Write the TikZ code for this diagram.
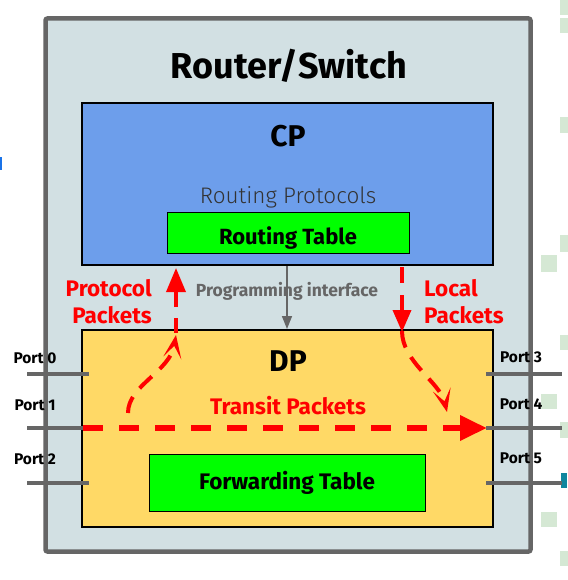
\documentclass[tikz,border=0pt]{standalone}
\usepackage{fontspec}
\setmainfont{Fira Sans}
\newfontfamily\lightfont{Fira Sans Light}
\usetikzlibrary{arrows.meta}
\definecolor{outerfill}{HTML}{D2E0E3}
\definecolor{outerdraw}{HTML}{666666}
\definecolor{cpfill}{HTML}{6D9EEB}
\definecolor{dpfill}{HTML}{FFD966}
\definecolor{tblgreen}{HTML}{00FF00}
\definecolor{pkred}{HTML}{FF0000}
\definecolor{bgsq}{HTML}{D5E8D4}
\definecolor{tealmark}{HTML}{10869E}
\definecolor{bluemark}{HTML}{1A73E8}
\tikzset{
  plane/.style={draw=black, line width=2pt, inner sep=0pt},
  tablebox/.style={draw=black, line width=1pt, fill=tblgreen, inner sep=0pt},
  portline/.style={draw=outerdraw, line width=4pt},
  portlabel/.style={font=\fontsize{15.5}{18}\selectfont\bfseries, inner sep=0pt},
  redlabel/.style={text=pkred, font=\fontsize{22.5}{27}\selectfont\bfseries, inner sep=0pt},
  transitpath/.style={draw=pkred, line width=6.5pt, dash pattern=on 20pt off 16pt, -{Triangle[length=27pt,width=24pt]}},
  curvepath/.style={draw=pkred, line width=4pt, dash pattern=on 17pt off 11pt, -{Stealth[length=23pt,width=18pt,inset=12pt]}},
  straightpath/.style={draw=pkred, line width=3.5pt, dash pattern=on 15pt off 11pt, -{Triangle[length=24pt,width=19pt]}},
}
\begin{document}
\begin{tikzpicture}[x=1pt,y=-1pt]
\useasboundingbox (0,0) rectangle (567,580);
\fill[white] (0,0) rectangle (567,580);
% background artifacts
\foreach \x/\ya/\yb in {560/0/15, 560/18/33, 560/117/133, 560/235/252, 541/255/272, 560/335/350, 541/394/409, 560/422/438, 541/512/527, 560/551/566}
  \fill[bgsq] (\x,\ya) rectangle ++(16,\yb-\ya);
\fill[tealmark] (561,473) rectangle (567,488);
\fill[bluemark] (0,157) rectangle (1.5,170);

% outer router box
\node[draw=outerdraw, line width=4.5pt, fill=outerfill, rounded corners=2pt, minimum width=485pt, minimum height=533pt, inner sep=0pt] (router) at (288,285) {};
\node[font=\fontsize{36}{42}\selectfont\bfseries] (title) at (289,66) {Router/Switch};

% control plane
\node[plane, fill=cpfill, minimum width=411pt, minimum height=162pt] (cp) at (287.5,184) {};
\node[font=\fontsize{30}{36}\selectfont\bfseries] (cplabel) at (288,136) {CP};
\node[font=\fontsize{22.5}{27}\lightfont, text=black!80] (rproto) at (288,197) {Routing Protocols};
\node[tablebox, minimum width=242pt, minimum height=41pt] (rtable) at (288,232.5) {};
\node[font=\fontsize{22}{26}\selectfont\bfseries] (rtablelabel) at (288,238) {Routing Table};

% data plane
\node[plane, fill=dpfill, minimum width=411pt, minimum height=197pt] (dp) at (287.5,428.5) {};
\node[font=\fontsize{30}{36}\selectfont\bfseries] (dplabel) at (288,361) {DP};
\node[tablebox, minimum width=276pt, minimum height=57pt] (ftable) at (287,482.5) {};
\node[font=\fontsize{22.5}{27}\selectfont\bfseries] (ftablelabel) at (287,482.5) {Forwarding Table};

% programming interface
\node[font=\fontsize{17.5}{21}\selectfont\bfseries, text=outerdraw] (prog) at (287,291) {Programming interface};
\draw[draw=outerdraw, line width=1.5pt, -{Triangle[length=13pt,width=10pt]}] (cp.south -| prog) -- (dp.north -| prog);

% ports
\foreach \i/\y in {0/374, 1/428, 2/483} {
  \coordinate (pl\i a) at (27,\y);
  \coordinate (pl\i b) at (89,\y);
  \draw[portline] (pl\i a) -- (pl\i b);
}
\foreach \i/\y in {3/374, 4/428, 5/483} {
  \coordinate (pr\i a) at (486,\y);
  \coordinate (pr\i b) at (562,\y);
  \draw[portline] (pr\i a) -- (pr\i b);
}
\node[portlabel] (port0) at (35,358) {Port 0};
\node[portlabel] (port1) at (35,405) {Port 1};
\node[portlabel] (port2) at (35,459) {Port 2};
\node[portlabel] (port3) at (521,357) {Port 3};
\node[portlabel] (port4) at (521,404) {Port 4};
\node[portlabel] (port5) at (521,458) {Port 5};

% packet labels
\node[redlabel, align=right, anchor=east] (protolabel) at (152,302) {Protocol\\Packets};
\node[redlabel, align=left, anchor=west] (locallabel) at (424,302) {Local\\Packets};
\node[redlabel] (transitlabel) at (288,406) {Transit Packets};

% transit packets
\coordinate (tstart) at (83,428);
\coordinate (tend) at (487,428);
\draw[transitpath] (tstart) -- (tend);

% protocol packets
\coordinate (pcs) at (128,413);
\coordinate (pce) at (176,335);
\draw[curvepath] (pcs) .. controls (128,385) and (170,372) .. (pce);
\coordinate (pus) at (176,333);
\coordinate (pue) at (176,268);
\draw[straightpath] (pus) -- (pue);

% local packets
\coordinate (lds) at (402,267);
\coordinate (lde) at (402,332);
\draw[straightpath, dash pattern=on 16pt off 12pt, -{Triangle[length=22pt,width=18pt]}] (lds) -- (lde);
\coordinate (lcs) at (402,331);
\coordinate (lce) at (447,412);
\draw[curvepath] (lcs) .. controls (402,362) and (440,382) .. (lce);
\end{tikzpicture}
\end{document}
